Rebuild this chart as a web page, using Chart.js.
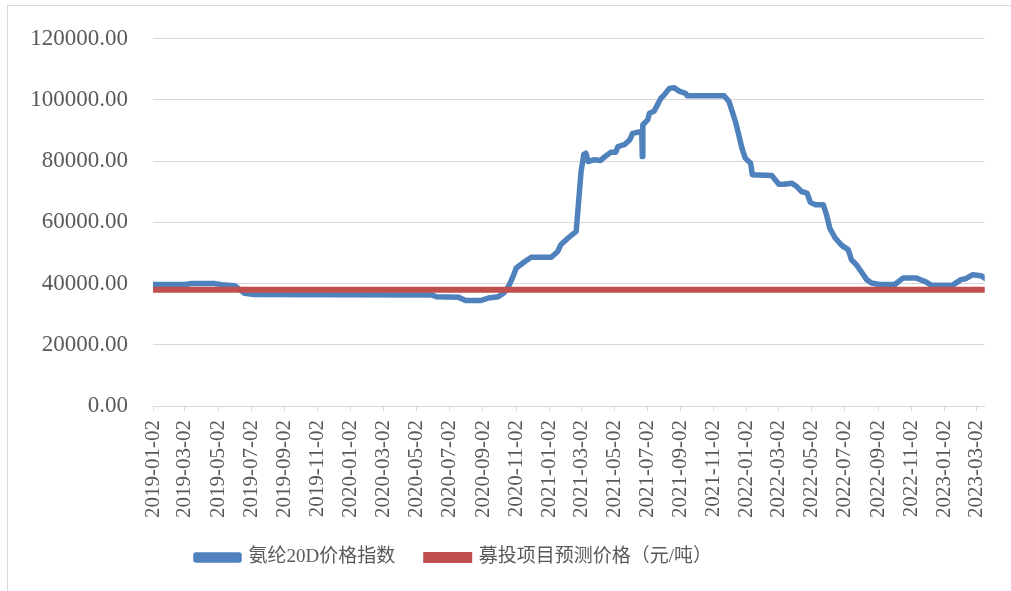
<!DOCTYPE html>
<html>
<head>
<meta charset="utf-8">
<script src="https://cdn.jsdelivr.net/npm/chart.js@4/dist/chart.umd.min.js"></script>
<style>
  body { margin: 0; background: #fff; overflow: hidden; }
  canvas { display: block; }
</style>
</head>
<body>
<canvas id="myChart" width="1011" height="591"></canvas>
<script>
// series values
const indexDates = [
  "2019-01-02", "2019-03-02", "2019-03-15", "2019-04-26", "2019-05-09", "2019-06-02",
  "2019-06-20", "2019-07-08", "2020-05-31", "2020-06-08", "2020-07-19", "2020-08-01",
  "2020-08-30", "2020-09-12", "2020-09-30", "2020-10-11", "2020-10-19", "2020-10-28",
  "2020-11-02", "2020-11-19", "2020-11-30", "2021-01-06", "2021-01-18", "2021-01-24",
  "2021-02-06", "2021-02-21", "2021-02-24", "2021-03-02", "2021-03-07", "2021-03-11",
  "2021-03-15", "2021-03-27", "2021-04-07", "2021-04-15", "2021-04-26", "2021-05-05",
  "2021-05-09", "2021-05-22", "2021-05-31", "2021-06-05", "2021-06-22", "2021-06-23",
  "2021-06-24", "2021-07-03", "2021-07-06", "2021-07-15", "2021-07-21", "2021-07-27",
  "2021-08-02", "2021-08-12", "2021-08-21", "2021-08-30", "2021-09-11", "2021-09-14",
  "2021-11-21", "2021-11-30", "2021-12-06", "2021-12-12", "2021-12-18", "2021-12-24",
  "2021-12-30", "2022-01-09", "2022-01-12", "2022-02-17", "2022-03-02", "2022-03-11",
  "2022-03-26", "2022-04-04", "2022-04-13", "2022-04-23", "2022-04-29", "2022-05-08",
  "2022-05-23", "2022-05-29", "2022-06-04", "2022-06-14", "2022-06-26", "2022-07-08",
  "2022-07-14", "2022-07-23", "2022-08-05", "2022-08-11", "2022-08-20", "2022-09-04",
  "2022-10-02", "2022-10-17", "2022-11-11", "2022-11-29", "2022-12-08", "2023-01-17",
  "2023-02-01", "2023-02-10", "2023-02-23", "2023-03-10", "2023-03-17"
];
const indexValues = [
  39700, 39700, 40000, 40000, 39600, 39300,
  36800, 36400, 36300, 35700, 35500, 34500,
  34500, 35300, 35700, 37000, 39000, 42500,
  45000, 47300, 48600, 48600, 50500, 52800,
  54900, 57100, 63600, 76600, 82200, 82600,
  79900, 80500, 80200, 81500, 82900, 82900,
  84800, 85500, 87000, 89100, 89700, 81500,
  91900, 93500, 95600, 96400, 98400, 100500,
  101600, 103800, 104000, 102900, 102200, 101400,
  101400, 99500, 96200, 92900, 88600, 84200,
  81000, 79300, 75600, 75300, 72500, 72500,
  72800, 71700, 70100, 69600, 66600, 65800,
  65800, 62500, 58100, 54900, 52500, 51100,
  47800, 46200, 42900, 41300, 40200, 39700,
  39700, 41800, 41800, 40500, 39500, 39500,
  41300, 41600, 42900, 42600, 41800
];

const targetDates = ["2019-01-02", "2023-03-17"];
const targetValues = [38000, 38000];

const tickLabels = [
  "2019-01-02", "2019-03-02", "2019-05-02", "2019-07-02", "2019-09-02", "2019-11-02",
  "2020-01-02", "2020-03-02", "2020-05-02", "2020-07-02", "2020-09-02", "2020-11-02",
  "2021-01-02", "2021-03-02", "2021-05-02", "2021-07-02", "2021-09-02", "2021-11-02",
  "2022-01-02", "2022-03-02", "2022-05-02", "2022-07-02", "2022-09-02", "2022-11-02",
  "2023-01-02", "2023-03-02"
];

const seriesNames = ["氨纶20D价格指数", "募投项目预测价格（元/吨）"];

const DAY = 86400000;
const start = Date.parse(tickLabels[0]);
const toDay = (d) => Math.round((Date.parse(d) - start) / DAY);
const toPoints = (dates, values) => dates.map((d, i) => ({ x: toDay(d), y: values[i] }));

const grey = "#595959";
const serif = "'Liberation Serif', 'Times New Roman', 'Noto Sans CJK SC', serif";

const frame = {
  id: "frame",
  beforeDraw(chart) {
    const c = chart.ctx;
    c.save();
    c.strokeStyle = "#d9d9d9";
    c.lineWidth = 1;
    c.strokeRect(7.5, 5.5, 1200, 800);
    c.restore();
  },
  afterLayout(chart) {
    chart.legend.left -= 42;
    chart.legend.right -= 42;
  },
};

const ctx = document.getElementById("myChart");

new Chart(ctx, {
  type: "line",
  data: {
    datasets: [
      {
        label: seriesNames[0],
        data: toPoints(indexDates, indexValues),
        borderColor: "#4F81BD",
        backgroundColor: "#4F81BD",
        borderWidth: 5.5,
        borderCapStyle: "round",
        borderJoinStyle: "round",
        pointRadius: 0,
        order: 1,
      },
      {
        label: seriesNames[1],
        data: toPoints(targetDates, targetValues),
        borderColor: "#C0504D",
        backgroundColor: "#C0504D",
        borderWidth: 6,
        borderCapStyle: "round",
        pointRadius: 0,
        order: 0,
      },
    ],
  },
  options: {
    responsive: false,
    animation: false,
    layout: { padding: { left: 0, right: 19, top: 26, bottom: 14 } },
    plugins: {
      tooltip: { enabled: false },
      legend: {
        position: "bottom",
        labels: {
          sort: (a, b) => a.datasetIndex - b.datasetIndex,
          boxWidth: 43,
          boxHeight: 5,
          padding: 31,
          color: grey,
          font: { family: serif, size: 19 },
        },
      },
    },
    scales: {
      x: {
        type: "linear",
        min: 0,
        max: toDay(targetDates[1]),
        afterBuildTicks: (scale) => {
          scale.ticks = tickLabels.map((d) => ({ value: toDay(d) }));
        },
        afterFit: (scale) => {
          scale.height = 111;
        },
        ticks: {
          autoSkip: false,
          minRotation: 90,
          maxRotation: 90,
          padding: 9,
          color: grey,
          font: { family: serif, size: 21 },
          callback: (value, index) => tickLabels[index],
        },
        grid: {
          drawOnChartArea: false,
          drawTicks: true,
          tickLength: 5,
          color: "#d9d9d9",
        },
        border: { display: true, color: "#d9d9d9" },
      },
      y: {
        min: 0,
        max: 120000,
        afterFit: (scale) => {
          scale.width = 153;
        },
        ticks: {
          stepSize: 20000,
          padding: 25,
          color: grey,
          font: { family: serif, size: 23 },
          callback: (value) => value.toFixed(2),
        },
        grid: { color: "#d9d9d9", drawTicks: false },
        border: { display: false },
      },
    },
  },
  plugins: [frame],
});
</script>
</body>
</html>
